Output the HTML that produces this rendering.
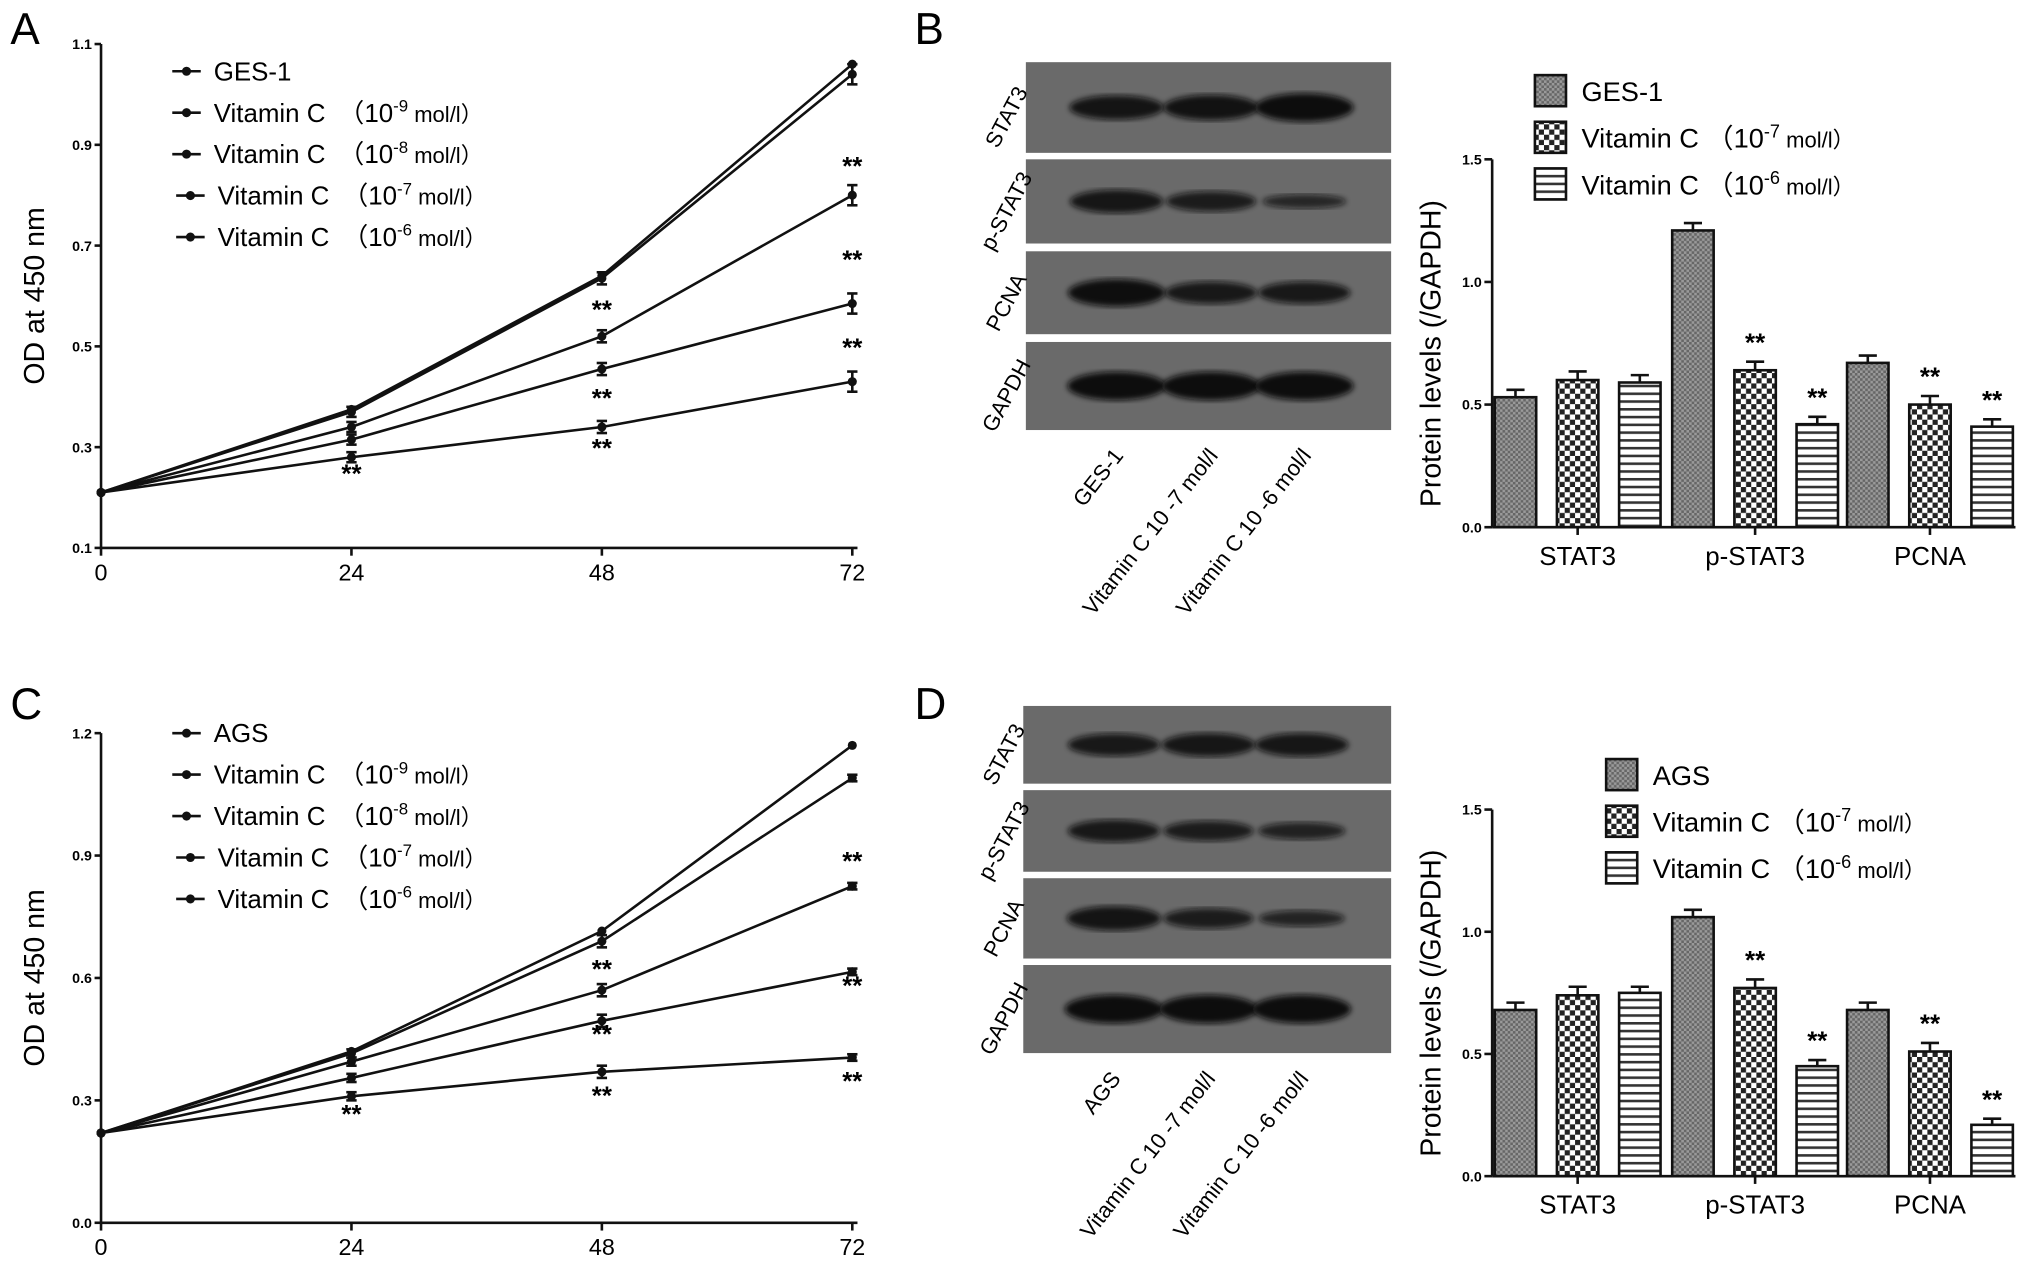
<!DOCTYPE html>
<html><head><meta charset="utf-8">
<style>
html,body{margin:0;padding:0;background:#fff;}
svg{display:block;font-family:"Liberation Sans",Arial,sans-serif;}
</style></head>
<body>
<svg id="fig" width="2031" height="1272" viewBox="0 0 1568 982" preserveAspectRatio="none" xmlns="http://www.w3.org/2000/svg">
<defs>
<pattern id="pDot" width="4" height="4" patternUnits="userSpaceOnUse"><rect width="4" height="4" fill="#9a9a9a"/><rect width="2" height="2" fill="#666"/><rect x="2" y="2" width="2" height="2" fill="#666"/></pattern>
<pattern id="pChk" width="8" height="8" patternUnits="userSpaceOnUse"><rect width="8" height="8" fill="#fff"/><rect width="4" height="4" fill="#222"/><rect x="4" y="4" width="4" height="4" fill="#222"/></pattern>
<pattern id="pHor" width="6" height="6" patternUnits="userSpaceOnUse"><rect width="6" height="6" fill="#fff"/><rect y="3" width="6" height="2" fill="#333"/></pattern>
<filter id="blur"><feGaussianBlur stdDeviation="2.2"/></filter>
</defs>
<g id="root"></g>
</svg>
<script>
// ---- Data: line charts ----
const timePoints = [0, 24, 48, 72];
const xTicks = [0, 24, 48, 72];
const aTicks = [0.1, 0.3, 0.5, 0.7, 0.9, 1.1];
const cTicks = [0.0, 0.3, 0.6, 0.9, 1.2];
const aSeriesNames = ["GES-1", "Vitamin C", "Vitamin C", "Vitamin C", "Vitamin C"];
const cSeriesNames = ["AGS", "Vitamin C", "Vitamin C", "Vitamin C", "Vitamin C"];
const seriesExp = ["", "-9", "-8", "-7", "-6"];
const aGES = [0.21, 0.375, 0.64, 1.06];
const aC9 = [0.21, 0.37, 0.635, 1.04];
const aC8 = [0.21, 0.34, 0.52, 0.80];
const aC7 = [0.21, 0.315, 0.455, 0.585];
const aC6 = [0.21, 0.28, 0.34, 0.43];
const aErr = [0.005, 0.01, 0.012, 0.02];
const cAGS = [0.22, 0.42, 0.715, 1.17];
const cC9 = [0.22, 0.415, 0.69, 1.09];
const cC8 = [0.22, 0.395, 0.57, 0.825];
const cC7 = [0.22, 0.355, 0.495, 0.615];
const cC6 = [0.22, 0.31, 0.37, 0.405];
const cErr = [0.005, 0.01, 0.015, 0.008];
// ---- Data: bar charts ----
const barCats = ["STAT3", "p-STAT3", "PCNA"];
const barTicks = [0.0, 0.5, 1.0, 1.5];
const bGES = [0.53, 1.21, 0.67];
const bC7 = [0.60, 0.64, 0.50];
const bC6 = [0.59, 0.42, 0.41];
const bErr = [0.03, 0.035, 0.03];
const dAGS = [0.68, 1.06, 0.68];
const dC7 = [0.74, 0.77, 0.51];
const dC6 = [0.75, 0.45, 0.21];
const dErr = [0.03, 0.035, 0.025];
const blotLabels = ["STAT3", "p-STAT3", "PCNA", "GAPDH"];
const bBand = [[0.8,0.85,1.0],[0.75,0.6,0.3],[0.95,0.7,0.7],[1,1,1]];
const dBand = [[0.7,0.75,0.75],[0.7,0.6,0.45],[0.8,0.6,0.4],[1,1,1]];

const NS = "http://www.w3.org/2000/svg";
const root = document.getElementById("root");
function mk(tag, attrs, parent, text){
  const e = document.createElementNS(NS, tag);
  for (const k in attrs) e.setAttribute(k, attrs[k]);
  if (text !== undefined) e.textContent = text;
  (parent || root).appendChild(e);
  return e;
}

function lineChart(cfg){
  const g = mk("g", {});
  
  
  const X = t => cfg.x0 + (t - 0) / 72 * (cfg.x1 - cfg.x0);
  const Y = v => cfg.yb - (v - cfg.ymin) / (cfg.ymax - cfg.ymin) * (cfg.yb - cfg.yt);
  mk("line", {x1:cfg.x0, y1:cfg.yt, x2:cfg.x0, y2:cfg.yb, stroke:"#111","stroke-width":2}, g);
  mk("line", {x1:cfg.x0, y1:cfg.yb, x2:cfg.x1+4, y2:cfg.yb, stroke:"#111","stroke-width":2}, g);
  cfg.yticks.forEach(v=>{
    mk("line",{x1:cfg.x0-5,y1:Y(v),x2:cfg.x0,y2:Y(v),stroke:"#111","stroke-width":2},g);
    const t = mk("text",{x:cfg.x0-7,y:Y(v)+4,"text-anchor":"end","font-size":11,"font-weight":"bold"},g,v.toFixed(1));
    
    
  });
  xTicks.forEach(v=>{
    mk("line",{x1:X(v),y1:cfg.yb,x2:X(v),y2:cfg.yb+6,stroke:"#111","stroke-width":2},g);
    const t = mk("text",{x:X(v),y:cfg.yb+25,"text-anchor":"middle","font-size":18},g,String(v));
    
    
  });
  const yt = mk("text",{transform:`translate(${cfg.x0-44},${(cfg.yt+cfg.yb)/2}) rotate(-90)`,"text-anchor":"middle","font-size":22},g,"OD at 450 nm");
  
  
  const pl = mk("text",{x:cfg.lx,y:cfg.ly,"font-size":34},g,cfg.letter);
  
  
  cfg.series.forEach((s,i)=>{
    const pts = timePoints.map((t,j)=>X(t)+","+Y(s[j])).join(" ");
    const pl2 = mk("polyline",{points:pts,fill:"none",stroke:"#111","stroke-width":2},g);
    
    
    timePoints.forEach((t,j)=>{
      const e = cfg.err[j];
      if (i>0 && j>0){
        mk("line",{x1:X(t),y1:Y(s[j]+e),x2:X(t),y2:Y(s[j]-e),stroke:"#111","stroke-width":2},g);
        mk("line",{x1:X(t)-4,y1:Y(s[j]+e),x2:X(t)+4,y2:Y(s[j]+e),stroke:"#111","stroke-width":2},g);
        mk("line",{x1:X(t)-4,y1:Y(s[j]-e),x2:X(t)+4,y2:Y(s[j]-e),stroke:"#111","stroke-width":2},g);
      }
      const m = mk("circle",{cx:X(t),cy:Y(s[j]),r:3.5,fill:"#111"},g);
      
      
    });
  });
  cfg.stars.forEach(st=>{
    const t = mk("text",{x:X(st[0]),y:Y(st[1]),"text-anchor":"middle","font-size":20,"font-weight":"bold"},g,"**");
    
    
  });
  cfg.names.forEach((n,i)=>{
    const ly = cfg.legY + i*32;
    const lx = cfg.legX + (i>=3 ? 3 : 0);
    mk("line",{x1:lx,y1:ly,x2:lx+22,y2:ly,stroke:"#111","stroke-width":2},g);
    mk("circle",{cx:lx+11,cy:ly,r:3.5,fill:"#111"},g);
    const t = mk("text",{x:lx+32,y:ly+7,"font-size":20},g);
    
    
    t.textContent = n;
    if (seriesExp[i]){
      mk("tspan",{dx:10},t,"（10");
      mk("tspan",{dy:-8,"font-size":13},t,seriesExp[i]);
      mk("tspan",{dy:8,"font-size":17},t," mol/l）");
    }
  });
}

lineChart({name:"chart-a",letter:"A",lx:8,ly:34,x0:78,x1:658,yt:34,yb:423,ymin:0.1,ymax:1.1,yticks:aTicks,
  series:[aGES,aC9,aC8,aC7,aC6],err:aErr,names:aSeriesNames,legX:133,legY:55,
  stars:[[24,0.23],[48,0.555],[48,0.38],[48,0.28],[72,0.84],[72,0.655],[72,0.48]]});
lineChart({name:"chart-c",letter:"C",lx:8,ly:555,x0:78,x1:658,yt:566,yb:944,ymin:0,ymax:1.2,yticks:cTicks,
  series:[cAGS,cC9,cC8,cC7,cC6],err:cErr,names:cSeriesNames,legX:133,legY:566,
  stars:[[24,0.245],[48,0.6],[48,0.44],[48,0.29],[72,0.865],[72,0.56],[72,0.325]]});

function blot(cfg){
  const g = mk("g",{});
  
  
  const lanes = [cfg.x+70, cfg.x+143, cfg.x+215];
  cfg.rows.forEach((r,i)=>{
    const rr = mk("rect",{x:cfg.x,y:r[0],width:cfg.w,height:r[1]-r[0],fill:"#6a6a6a"},g);
    
    
    const cy=(r[0]+r[1])/2;
    lanes.forEach((lx,j)=>{
      const s = cfg.bands[i][j];
      mk("ellipse",{cx:lx,cy:cy,rx:30+8*s,ry:3+8*s,fill:"#0a0a0a","fill-opacity":0.65+0.35*s,filter:"url(#blur)"},g);
    });
    const t = mk("text",{transform:`translate(${cfg.x-10},${cy+10}) rotate(-62)`,"text-anchor":"middle","font-size":17},g,blotLabels[i]);
    
    
  });
  cfg.lanes.forEach((n,j)=>{
    const t = mk("text",{transform:`translate(${lanes[j]+6},${cfg.laneY}) rotate(-52)`,"text-anchor":"end","font-size":17},g,n);
    
    
  });
}
blot({name:"blot-b",x:792,w:282,rows:[[48,118],[123,188],[194,258],[264,332]],bands:bBand,lanes:["GES-1","Vitamin C 10 -7 mol/l","Vitamin C 10 -6 mol/l"],laneY:352});
blot({name:"blot-d",x:790,w:284,rows:[[545,605],[610,673],[678,740],[745,813]],bands:dBand,lanes:["AGS","Vitamin C 10 -7 mol/l","Vitamin C 10 -6 mol/l"],laneY:833});

function barChart(cfg){
  const g = mk("g",{});
  
  
  const Y = v => cfg.yb - v/1.5*(cfg.yb-cfg.yt);
  const centers = [1218,1355,1490];
  const fills = ["url(#pDot)","url(#pChk)","url(#pHor)"];
  const L = mk("text",{x:cfg.lx,y:cfg.ly,"font-size":34},g,cfg.letter);
  
  
  [cfg.s0,cfg.s1,cfg.s2].forEach((s,k)=>{
    barCats.forEach((c,i)=>{
      const x = centers[i]+(k-1)*48-16;
      const b = mk("rect",{x:x,y:Y(s[i]),width:32,height:cfg.yb-Y(s[i]),fill:fills[k],stroke:"#111","stroke-width":2},g);
      
      
      const e=cfg.err[k], top=Y(s[i]+e);
      mk("line",{x1:x+16,y1:Y(s[i]),x2:x+16,y2:top,stroke:"#111","stroke-width":2},g);
      mk("line",{x1:x+9,y1:top,x2:x+23,y2:top,stroke:"#111","stroke-width":2},g);
      if ((i>0)&&(k>0)){
        const st = mk("text",{x:x+16,y:top-8,"text-anchor":"middle","font-size":20,"font-weight":"bold"},g,"**");
        
        
      }
    });
  });
  mk("line",{x1:1152,y1:cfg.yt,x2:1152,y2:cfg.yb,stroke:"#111","stroke-width":2},g);
  mk("line",{x1:1152,y1:cfg.yb,x2:1556,y2:cfg.yb,stroke:"#111","stroke-width":2},g);
  barTicks.forEach(v=>{
    mk("line",{x1:1146,y1:Y(v),x2:1152,y2:Y(v),stroke:"#111","stroke-width":2},g);
    const t=mk("text",{x:1144,y:Y(v)+4,"text-anchor":"end","font-size":11,"font-weight":"bold"},g,v.toFixed(1));
    
    
  });
  barCats.forEach((c,i)=>{
    mk("line",{x1:centers[i],y1:cfg.yb,x2:centers[i],y2:cfg.yb+6,stroke:"#111","stroke-width":2},g);
    const t=mk("text",{x:centers[i],y:cfg.yb+29,"text-anchor":"middle","font-size":20},g,c);
    
    
  });
  const yt=mk("text",{transform:`translate(1112,${(cfg.yt+cfg.yb)/2+8}) rotate(-90)`,"text-anchor":"middle","font-size":22},g,"Protein levels (/GAPDH)");
  
  
  cfg.legNames.forEach((n,k)=>{
    const ly = cfg.legY + k*36;
    mk("rect",{x:cfg.legX,y:ly-12,width:24,height:24,fill:fills[k],stroke:"#111","stroke-width":2},g);
    const t=mk("text",{x:cfg.legX+36,y:ly+8,"font-size":21},g,n);
    
    
    if (k>0){ mk("tspan",{},t,"（10"); mk("tspan",{dy:-8,"font-size":14},t,k==1?"-7":"-6"); mk("tspan",{dy:8,"font-size":17},t," mol/l）"); }
  });
}
barChart({name:"chart-b",letter:"B",lx:706,ly:34,yt:123,yb:407,s0:bGES,s1:bC7,s2:bC6,err:bErr,legX:1185,legY:70,legNames:["GES-1","Vitamin C ","Vitamin C "]});
barChart({name:"chart-d",letter:"D",lx:706,ly:555,yt:625,yb:908,s0:dAGS,s1:dC7,s2:dC6,err:dErr,legX:1240,legY:598,legNames:["AGS","Vitamin C ","Vitamin C "]});
</script>
</body></html>
